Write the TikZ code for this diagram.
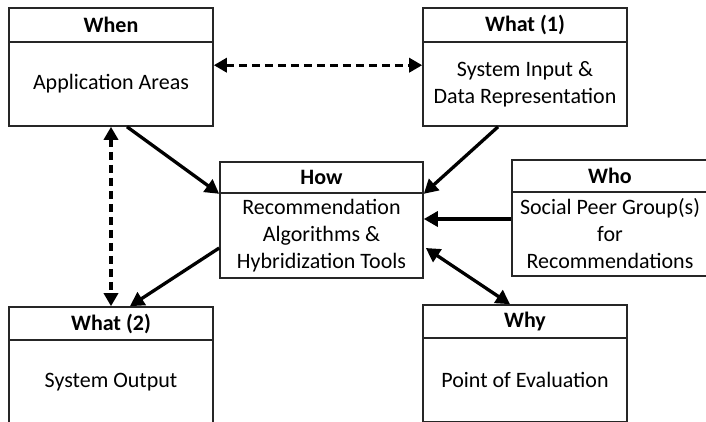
\documentclass[tikz,border=0pt]{standalone}
\usepackage{fontspec}
\setmainfont{Carlito}
\usetikzlibrary{arrows.meta,calc}
\tikzset{
  box/.style={draw=black!85, line width=1.6pt, inner sep=0pt, align=center, font=\fontsize{22}{27}\selectfont},
  head/.style={box, font=\bfseries\fontsize{22}{27}\selectfont},
  conn/.style={line width=3.3pt, -{Triangle[length=14pt,width=15pt]}},
  bconn/.style={line width=3.3pt, {Triangle[length=14pt,width=15pt]}-{Triangle[length=14pt,width=15pt]}},
  dconn/.style={line width=3.3pt, {Triangle[length=13pt,width=14pt]}-{Triangle[length=13pt,width=14pt]}, dash pattern=on 8pt off 5pt},
}
\begin{document}
\begin{tikzpicture}[x=1pt,y=-1pt]
\useasboundingbox (0,0) rectangle (706,421);
\clip (0,0) rectangle (706,421);
% When
\node[head, minimum width=204pt, minimum height=34pt] (whenh) at (111,25) {When};
\node[box, minimum width=204pt, minimum height=84pt] (whenb) at (111,84) {Application Areas};
% What (1)
\node[head, minimum width=204pt, minimum height=34pt] (what1h) at (525,25) {What (1)};
\node[box, minimum width=204pt, minimum height=84pt] (what1b) at (525,84) {System Input \&\\Data Representation};
% How
\node[head, minimum width=203pt, minimum height=31pt] (howh) at (321.5,177.5) {How};
\node[box, minimum width=203pt, minimum height=85pt] (howb) at (321.5,235.5) {Recommendation\\Algorithms \&\\Hybridization Tools};
% Who
\node[head, minimum width=196pt, minimum height=32pt] (whoh) at (610,176) {Who};
\node[box, minimum width=196pt, minimum height=84pt] (whob) at (610,234) {Social Peer Group(s)\\for\\Recommendations};
% What (2)
\node[head, minimum width=204pt, minimum height=33pt] (what2h) at (111,323.5) {What (2)};
\node[box, minimum width=204pt, minimum height=84pt] (what2b) at (111,382) {System Output};
% Why
\node[head, minimum width=204pt, minimum height=33pt] (whyh) at (525,321.5) {Why};
\node[box, minimum width=204pt, minimum height=84pt] (whyb) at (525,380) {Point of Evaluation};
% connectors
\draw[dconn] ($(whenb.north east)+(0,24)$) -- ($(what1b.north west)+(0,24)$);
\draw[dconn] (whenb.south) -- (what2h.north);
\draw[conn] ($(whenb.south)+(16,0)$) -- (howh.south west);
\draw[conn] ($(what1b.south)+(-27,0)$) -- (howh.south east);
\draw[conn] ($(whob.west)+(0,-15)$) -- ($(howb.east)+(0,-16.5)$);
\draw[conn] ($(howb.west)+(0,12.5)$) -- ($(what2h.north)+(19,0)$);
\draw[bconn] ($(howb.east)+(2,12.5)$) -- ($(whyh.north)+(-15,0)$);
\end{tikzpicture}
\end{document}
